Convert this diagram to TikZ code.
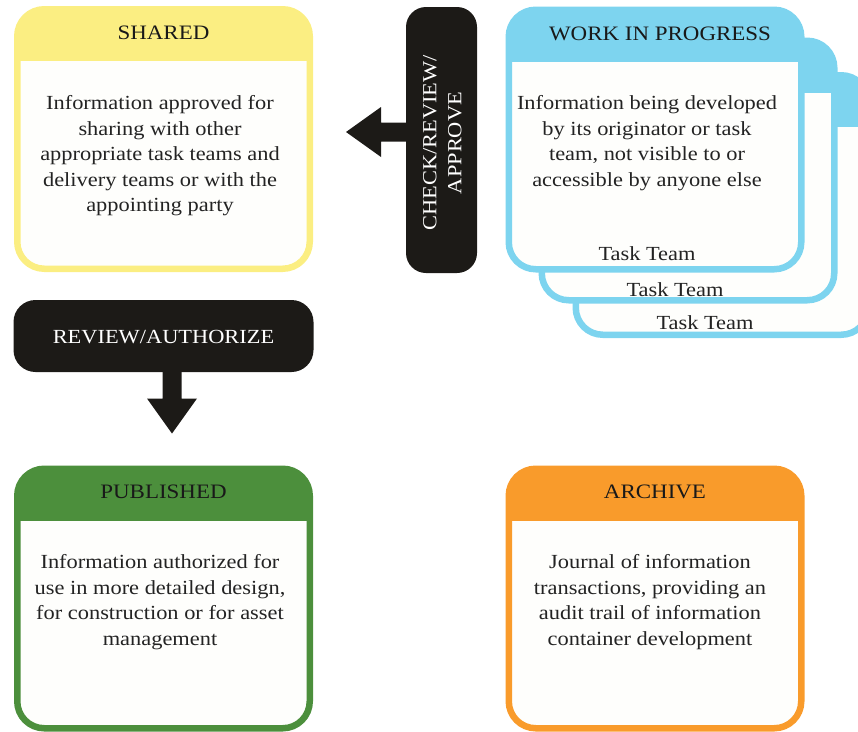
\documentclass[tikz,border=0pt]{standalone}
\usepackage{fontspec}
\setmainfont{Liberation Serif}[FakeStretch=1.12]
\usetikzlibrary{calc}
\definecolor{cyellow}{RGB}{251,238,130}
\definecolor{cblue}{RGB}{125,212,239}
\definecolor{cgreen}{RGB}{76,143,60}
\definecolor{corange}{RGB}{249,155,43}
\definecolor{cblack}{RGB}{28,26,23}
\definecolor{bodywhite}{RGB}{254,254,252}
\definecolor{bodytext}{RGB}{35,35,35}
\definecolor{headtext}{RGB}{25,25,25}
\begin{document}
\begin{tikzpicture}[x=1pt,y=-1pt,
  stage/.style={draw=#1, line width=6.5pt, rounded corners=27pt, fill=bodywhite,
    minimum width=292.5pt, minimum height=259.5pt, inner sep=0pt,
    path picture={\fill[#1, sharp corners] ([yshift=5pt]path picture bounding box.north west)
      rectangle ([yshift=-52pt]path picture bounding box.north east);}},
  headlabel/.style={font=\fontsize{20.5}{24}\selectfont, text=headtext, inner sep=0pt},
  bodylabel/.style={font=\fontsize{20}{25.5}\selectfont, text=bodytext, align=center, inner sep=0pt},
  teamlabel/.style={font=\fontsize{20}{24}\selectfont, text=bodytext, inner sep=0pt},
  blackbox/.style={fill=cblack, rounded corners=20pt, inner sep=0pt},
  whitelabel/.style={font=\fontsize{20}{25}\selectfont, text=white, align=center, inner sep=0pt},
  blockarrow/.style={fill=cblack}
]
\useasboundingbox (0,0) rectangle (858,731);

% SHARED
\node[stage=cyellow] (shared) at (163.5,139) {};
\node[headlabel] (sharedhead) at ($(shared.north)+(0,27)$) {SHARED};
\node[bodylabel] (sharedtext) at (160,156) {Information approved for\\sharing with other\\appropriate task teams and\\delivery teams or with the\\appointing party};

% WORK IN PROGRESS stack
\node[stage=cblue] (wip3) at (722,205) {};
\node[stage=cblue] (wip2) at (688,170.5) {};
\node[stage=cblue] (wip1) at (655,139.5) {};
\node[headlabel] (wiphead) at ($(wip1.north)+(5,27)$) {WORK IN PROGRESS};
\node[bodylabel] (wiptext) at (647,143) {Information being developed\\by its originator or task\\team, not visible to or\\accessible by anyone else};
\node[teamlabel] (team1) at (647,254) {Task Team};
\node[teamlabel] (team2) at (675,290) {Task Team};
\node[teamlabel] (team3) at (705,323) {Task Team};

% CHECK/REVIEW/APPROVE
\node[blackbox, minimum width=71pt, minimum height=266pt] (check) at (441.5,140) {};
\node[whitelabel, rotate=90] (checktext) at ($(check.center)+(1,3)$) {CHECK/REVIEW/\\APPROVE};
\coordinate (l0) at ($(check.west)+(2,-8)$);
\coordinate (ltip) at ($(shared.east)+(33,-7)$);
\fill[blockarrow] ($(l0)+(0,-9.5)$) -- ($(ltip)+(35,-9.5)$) -- ($(ltip)+(35,-25)$) -- (ltip)
  -- ($(ltip)+(35,25)$) -- ($(ltip)+(35,9.5)$) -- ($(l0)+(0,9.5)$) -- cycle;

% REVIEW/AUTHORIZE
\node[blackbox, rounded corners=22pt, minimum width=300pt, minimum height=72pt] (review) at (163.5,336) {};
\node[whitelabel] (reviewtext) at ($(review.center)+(0,1)$) {REVIEW/AUTHORIZE};

% PUBLISHED
\node[stage=cgreen] (published) at (163.5,598.5) {};
\node[headlabel] (pubhead) at ($(published.north)+(0,26)$) {PUBLISHED};
\node[bodylabel] (pubtext) at (160,602) {Information authorized for\\use in more detailed design,\\for construction or for asset\\management};

% down arrow
\coordinate (d0) at ($(review.south)+(8.5,-2)$);
\coordinate (dtip) at ($(published.north)+(8.5,-32)$);
\fill[blockarrow] ($(d0)+(-9.5,0)$) -- ($(d0)+(9.5,0)$) -- ($(dtip)+(9.5,-35)$) -- ($(dtip)+(25,-35)$)
  -- (dtip) -- ($(dtip)+(-25,-35)$) -- ($(dtip)+(-9.5,-35)$) -- cycle;

% ARCHIVE
\node[stage=corange] (archive) at (655,598.5) {};
\node[headlabel] (archhead) at ($(archive.north)+(0,26)$) {ARCHIVE};
\node[bodylabel] (archtext) at (650,602) {Journal of information\\transactions, providing an\\audit trail of information\\container development};
\end{tikzpicture}
\end{document}
